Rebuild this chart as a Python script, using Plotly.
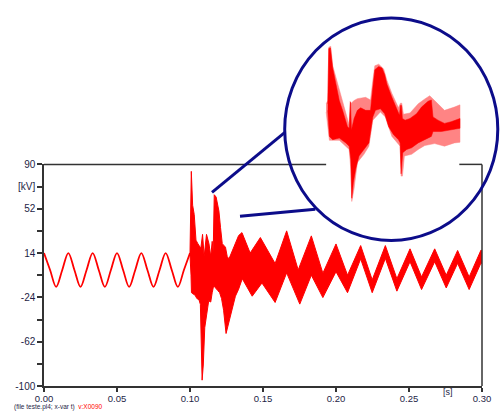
import plotly.graph_objects as go

# ---------------- main waveform data (t in s, v in kV) ----------------
# pre-fault steady-state wave
pre_t = [0, 0.00417, 0.00833, 0.0125, 0.01667, 0.02083, 0.025, 0.02917, 0.03333,
         0.0375, 0.04167, 0.04583, 0.05, 0.05417, 0.05833, 0.0625, 0.06667,
         0.07083, 0.075, 0.07917, 0.08333, 0.0875, 0.09167, 0.09583, 0.1]
pre_v = [14, -0.5, -15, -0.5, 14, -0.5, -15, -0.5, 14,
         -0.5, -15, -0.5, 14, -0.5, -15, -0.5, 14,
         -0.5, -15, -0.5, 14, -0.5, -15, -0.5, 14]

# transient: upper envelope of the oscillating signal
up_t = [0.1000, 0.1005, 0.1009, 0.1014, 0.1018, 0.1029, 0.1041, 0.1054, 0.1074,
        0.1086, 0.1091, 0.1097, 0.1113, 0.1130, 0.1142, 0.1152, 0.1159, 0.1166,
        0.1179, 0.1186, 0.1198, 0.1209, 0.1221, 0.1243, 0.1255, 0.1267, 0.1289,
        0.1311, 0.1333, 0.1356, 0.1378, 0.1412, 0.1482, 0.1583, 0.1662, 0.1741,
        0.1831, 0.1910, 0.2000, 0.2079, 0.2169, 0.2248, 0.2338, 0.2417, 0.2507,
        0.2586, 0.2676, 0.2755, 0.2833, 0.2912, 0.2993, 0.3000]
up_v = [14, 40, 84, 68, 55, 47, 25, 22, 18,
        30, 15, 11, 30, 22, 11, 24, 15, 64,
        62, 58, 50, 36, 22, 19, 11, 9, 16,
        22, 29, 31.5, 25, 14, 27.3, 5, 33, -0.5,
        28.7, -3.3, 21.8, -5, 20.4, -9, 20.4, -8, 17.6,
        -6.5, 17.6, -5, 16.2, -6.5, 16.5, 16]

# transient: lower envelope of the oscillating signal
lo_t = [0.1000, 0.1007, 0.1010, 0.1020, 0.1034, 0.1047, 0.1061, 0.1071, 0.1083,
        0.1091, 0.1101, 0.1120, 0.1128, 0.1142, 0.1152, 0.1162, 0.1176, 0.1189,
        0.1203, 0.1216, 0.1230, 0.1247, 0.1253, 0.1264, 0.1289, 0.1311, 0.1333,
        0.1358, 0.1426, 0.1493, 0.1583, 0.1662, 0.1752, 0.1831, 0.1910, 0.2000,
        0.2079, 0.2169, 0.2248, 0.2338, 0.2417, 0.2507, 0.2586, 0.2676, 0.2755,
        0.2833, 0.2912, 0.2993, 0.3000]
lo_v = [12, -5, -20, -21, -22, -25, -26, -30, -95,
        -82, -50, -34, -27, -28, -20, -14, -16, -18,
        -20, -25, -35, -55, -52, -45, -34, -23, -17,
        -8, -23, -11.7, -28.4, -3, -29.8, -5, -24.2, -2,
        -20, 9, -20, 9.4, -18.7, 6.6, -17.3, 6.6, -15.9,
        5.2, -17.3, 5.5, 5]

# axis ticks
x_ticks = [0, 0.05, 0.10, 0.15, 0.20, 0.25, 0.30]
x_labels = ["0.00", "0.05", "0.10", "0.15", "0.20", "0.25", "0.30"]
y_ticks = [90, 71, 52, 33, 14, -5, -24, -43, -62, -81, -100]
y_labels = ["90", "[kV]", "52", "", "14", "", "-24", "", "-62", "", "-100"]

# ---------------- magnified inset data (zoom units, depth downward) ----------------
inset_dark_hi_x = [125, 128, 133, 140, 150, 160, 170, 185, 190, 192, 194, 197, 205, 215, 225,
                   240, 255, 262, 268, 280, 290, 298, 305, 320, 335, 343, 346, 349, 352, 360,
                   375, 395, 410, 430, 440, 445, 460, 480, 500, 527]
inset_dark_hi_y = [300, 130, 128, 190, 240, 290, 320, 370, 375, 300, 295, 380, 345, 320, 312,
                   320, 320, 250, 195, 185, 190, 210, 240, 280, 320, 335, 305, 305, 345, 350,
                   345, 330, 310, 292, 288, 340, 350, 360, 355, 345]
inset_dark_lo_x = [125, 130, 140, 160, 180, 190, 195, 198, 203, 210, 220, 235, 250, 262, 270,
                   285, 298, 310, 325, 340, 345, 348, 350, 353, 365, 380, 400, 420, 440, 445,
                   470, 490, 527]
inset_dark_lo_y = [320, 400, 410, 405, 420, 430, 470, 590, 540, 500, 460, 440, 420, 340, 320,
                   315, 330, 370, 395, 410, 420, 515, 515, 450, 440, 435, 420, 410, 400, 385,
                   385, 380, 375]
inset_pink_hi_x = [120, 125, 128, 134, 140, 190, 193, 196, 205, 215, 240, 255, 262, 268, 280,
                   295, 305, 320, 340, 346, 350, 355, 375, 400, 420, 435, 450, 480, 510, 527]
inset_pink_hi_y = [300, 290, 126, 123, 183, 365, 292, 298, 290, 284, 280, 288, 228, 183, 178,
                   193, 228, 268, 312, 298, 298, 332, 328, 300, 285, 275, 290, 320, 310, 303]
inset_pink_lo_x = [120, 130, 160, 190, 195, 198, 205, 215, 235, 250, 262, 285, 300, 320, 345,
                   348, 352, 358, 380, 400, 420, 450, 480, 510, 527]
inset_pink_lo_y = [325, 412, 412, 440, 500, 600, 560, 480, 455, 430, 350, 325, 340, 400, 430,
                   522, 522, 460, 455, 440, 428, 422, 430, 420, 418]

# ---------------- figure ----------------
RED = "#ff0000"
PINK = "#ff8484"
NAVY = "#0c0c8a"
AX = "#333333"
TXT = "#1e1e46"

fig = go.Figure()

fig.add_trace(go.Scatter(x=pre_t, y=pre_v, mode="lines", line=dict(color=RED, width=1.8, shape="spline"),
                         hoverinfo="skip", showlegend=False))
fig.add_trace(go.Scatter(x=up_t + lo_t[::-1], y=up_v + lo_v[::-1], mode="lines", fill="toself",
                         fillcolor=RED, line=dict(color=RED, width=1), hoverinfo="skip", showlegend=False))

fig.add_trace(go.Scatter(x=inset_pink_hi_x + inset_pink_lo_x[::-1], y=inset_pink_hi_y + inset_pink_lo_y[::-1],
                         mode="lines", fill="toself", fillcolor=PINK, line=dict(color=PINK, width=0.5),
                         xaxis="x2", yaxis="y2", hoverinfo="skip", showlegend=False))
fig.add_trace(go.Scatter(x=inset_dark_hi_x + inset_dark_lo_x[::-1], y=inset_dark_hi_y + inset_dark_lo_y[::-1],
                         mode="lines", fill="toself", fillcolor=RED, line=dict(color=RED, width=0.5),
                         xaxis="x2", yaxis="y2", hoverinfo="skip", showlegend=False))

W, H = 501, 414
ML, MR, MT, MB = 44, 13, 10, 25
PW, PH = W - ML - MR, H - MT - MB


def px(x):
    return (x - ML) / PW


def py(y):
    return (H - MB - y) / PH


main_top = py(162)

fig.update_layout(
    width=W, height=H,
    margin=dict(l=ML, r=MR, t=MT, b=MB, pad=0),
    paper_bgcolor="white", plot_bgcolor="rgba(0,0,0,0)",
    font=dict(family="Liberation Sans, Arial, sans-serif", size=10, color=TXT),
    xaxis=dict(domain=[0, 1], range=[0, 0.3], tickvals=x_ticks, ticktext=x_labels,
               ticks="outside", ticklen=4, tickwidth=1.5, tickcolor=AX,
               showline=True, linecolor=AX, linewidth=1.5, showgrid=False, zeroline=False,
               anchor="y", tickfont=dict(size=9.5, color=TXT), ticklabelstandoff=-1),
    yaxis=dict(domain=[0, main_top], range=[-100, 90], tickvals=y_ticks, ticktext=y_labels,
               ticks="outside", ticklen=5, tickwidth=1.5, tickcolor=AX,
               showline=True, linecolor=AX, linewidth=1.5, showgrid=False, zeroline=False,
               anchor="x", tickfont=dict(size=10, color=TXT)),
    xaxis2=dict(domain=[px(320), px(476.67)], range=[90, 560], visible=False, anchor="y2"),
    yaxis2=dict(domain=[py(206.67), py(33.33)], range=[620, 100], visible=False, anchor="x2"),
    shapes=[
        dict(type="line", xref="paper", yref="paper", x0=0, x1=px(330), y0=main_top, y1=main_top,
             line=dict(color=AX, width=1.5)),
        dict(type="line", xref="paper", yref="paper", x0=px(465), x1=1, y0=main_top, y1=main_top,
             line=dict(color=AX, width=1.5)),
        dict(type="line", xref="paper", yref="paper", x0=1, x1=1, y0=0, y1=main_top,
             line=dict(color=AX, width=1.5)),
        dict(type="circle", xref="paper", yref="paper", x0=px(288), x1=px(504), y0=py(240), y1=py(12),
             line=dict(color=NAVY, width=3), layer="above"),
        dict(type="line", xref="paper", yref="paper", x0=px(214.3), y0=py(190.7), x1=px(288.5), y1=py(129),
             line=dict(color=NAVY, width=3), layer="above"),
        dict(type="line", xref="paper", yref="paper", x0=px(242.7), y0=py(215), x1=px(319), y1=py(208),
             line=dict(color=NAVY, width=3), layer="above"),
    ],
    annotations=[
        dict(text="[s]", xref="x", yref="paper", x=0.2764, y=py(395), showarrow=False,
             font=dict(size=9, color=TXT), xanchor="center", yanchor="middle"),
        dict(text="(file teste.pl4; x-var t)  <span style='color:#ff0000'>v:X0090</span>",
             xref="paper", yref="paper", x=px(13), y=py(410.5), showarrow=False,
             font=dict(size=6.5, color=TXT), xanchor="left", yanchor="middle", borderpad=0),
    ],
)

fig.write_html("out.html", config={"displayModeBar": False},
               post_script="document.body.style.margin='0';")
